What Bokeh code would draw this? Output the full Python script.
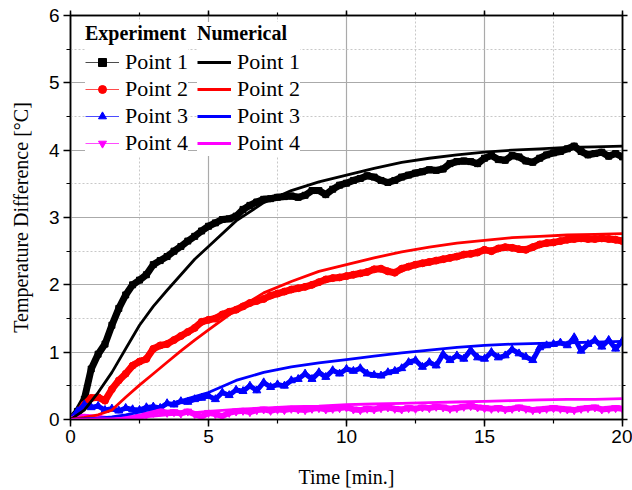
from bokeh.plotting import figure
from bokeh.models import (Range1d, SingleIntervalTicker, LinearAxis, Legend, LegendItem)
from bokeh.embed import file_html
from bokeh.resources import INLINE

# ---------------- data ----------------
t_exp = [i * 0.25 for i in range(81)]  # sample times [min]

exp_p1 = [0.00,0.12,0.30,0.75,0.97,1.12,1.40,1.65,1.85,2.00,
          2.07,2.15,2.30,2.36,2.42,2.50,2.57,2.65,2.72,2.80,
          2.87,2.92,2.97,2.98,3.02,3.12,3.18,3.23,3.27,3.28,
          3.30,3.31,3.32,3.30,3.33,3.40,3.40,3.34,3.42,3.48,
          3.51,3.55,3.58,3.62,3.60,3.55,3.52,3.55,3.60,3.63,
          3.66,3.68,3.71,3.70,3.72,3.80,3.83,3.84,3.83,3.80,
          3.88,3.92,3.86,3.85,3.92,3.90,3.84,3.82,3.88,3.93,
          3.96,3.98,4.02,4.06,3.98,3.93,3.95,3.97,3.91,3.95,
          3.90]
exp_p2 = [0.00,0.08,0.22,0.32,0.33,0.28,0.45,0.58,0.68,0.80,
          0.86,0.90,1.05,1.10,1.12,1.18,1.24,1.30,1.36,1.45,
          1.48,1.50,1.56,1.60,1.63,1.68,1.73,1.76,1.79,1.84,
          1.87,1.90,1.93,1.95,1.97,2.00,2.04,2.08,2.10,2.11,
          2.13,2.15,2.17,2.19,2.23,2.24,2.20,2.18,2.24,2.27,
          2.30,2.32,2.34,2.36,2.38,2.40,2.42,2.45,2.46,2.48,
          2.52,2.50,2.54,2.56,2.55,2.53,2.52,2.56,2.60,2.62,
          2.63,2.65,2.67,2.68,2.69,2.68,2.68,2.69,2.68,2.67,
          2.65]
exp_p3 = [0.00,0.12,0.22,0.18,0.20,0.14,0.16,0.13,0.17,0.15,
          0.14,0.18,0.19,0.17,0.24,0.22,0.27,0.26,0.30,0.32,
          0.35,0.30,0.40,0.36,0.44,0.42,0.50,0.43,0.55,0.48,
          0.52,0.50,0.58,0.60,0.68,0.60,0.70,0.63,0.73,0.68,
          0.75,0.72,0.76,0.68,0.66,0.65,0.70,0.72,0.76,0.85,
          0.88,0.78,0.85,0.80,0.97,0.88,0.95,0.90,1.03,0.92,
          0.90,1.00,0.92,0.95,1.04,0.98,0.93,0.88,1.07,1.10,
          1.12,1.14,1.10,1.22,1.02,1.12,1.18,1.08,1.18,1.05,
          1.17]
exp_p4 = [0.00,0.02,0.04,0.03,0.02,0.01,0.00,0.01,0.02,0.02,
          0.04,0.07,0.10,0.12,0.10,0.11,0.09,0.12,0.08,0.04,
          0.10,0.08,0.05,0.10,0.12,0.13,0.11,0.14,0.15,0.13,
          0.15,0.14,0.16,0.15,0.14,0.16,0.17,0.15,0.16,0.17,
          0.18,0.15,0.14,0.16,0.15,0.17,0.18,0.16,0.15,0.17,
          0.16,0.18,0.17,0.19,0.18,0.16,0.17,0.19,0.20,0.18,
          0.17,0.16,0.17,0.15,0.16,0.18,0.16,0.14,0.15,0.16,
          0.17,0.16,0.15,0.14,0.16,0.17,0.18,0.15,0.16,0.17,
          0.16]

t_num = [0,0.5,1,1.5,2,2.5,3,3.5,4,4.5,5,6,7,8,9,10,11,12,13,14,15,16,17,18,19,20]
num_p1 = [0,0.14,0.40,0.70,1.05,1.40,1.68,1.92,2.15,2.38,2.57,2.95,3.22,3.40,3.53,3.63,
          3.73,3.82,3.88,3.93,3.97,4.00,4.02,4.04,4.05,4.06]
num_p2 = [0,0.03,0.07,0.14,0.33,0.51,0.68,0.85,1.02,1.18,1.33,1.63,1.88,2.05,2.20,2.30,
          2.40,2.49,2.56,2.62,2.66,2.70,2.72,2.74,2.75,2.76]
num_p3 = [0,0.01,0.02,0.04,0.07,0.11,0.16,0.22,0.28,0.34,0.40,0.58,0.70,0.78,0.84,0.89,
          0.94,0.99,1.03,1.07,1.10,1.12,1.13,1.14,1.15,1.16]
num_p4 = [0,0.00,0.01,0.01,0.02,0.03,0.05,0.07,0.08,0.10,0.12,0.15,0.17,0.19,0.20,0.22,
          0.23,0.24,0.25,0.26,0.27,0.28,0.29,0.30,0.30,0.31]

labels = ["Point 1", "Point 2", "Point 3", "Point 4"]
colors = ["#000000", "#FF0000", "#0000FF", "#FF00FF"]
markers = ["square", "circle", "triangle", "inverted_triangle"]
msizes = [6, 7, 8, 8]
band_w = [7, 7, 5, 6]

SERIF = "Liberation Serif"
SANS = "Liberation Sans"

# ---------------- figure ----------------
p = figure(width=632, height=490, output_backend="svg", toolbar_location=None,
           x_range=Range1d(0, 20), y_range=Range1d(0, 6),
           min_border_left=70, min_border_right=10, min_border_top=15, min_border_bottom=70)
p.background_fill_color = "white"
p.border_fill_color = "white"
p.outline_line_color = "black"
p.outline_line_width = 1.5

p.xaxis.ticker = SingleIntervalTicker(interval=5, num_minor_ticks=2)
p.yaxis.ticker = SingleIntervalTicker(interval=1, num_minor_ticks=2)
p.xgrid.ticker = p.xaxis.ticker
p.ygrid.ticker = p.yaxis.ticker

for g in (p.xgrid, p.ygrid):
    g.grid_line_color = "#AAAAAA"
    g.grid_line_width = 1.2
    g.minor_grid_line_color = "#C8C8C8"
    g.minor_grid_line_dash = "2 2"
    g.minor_grid_line_width = 1

for ax in (p.xaxis, p.yaxis):
    ax.axis_line_color = "black"
    ax.axis_line_width = 1.5
    ax.major_tick_line_width = 1.5
    ax.minor_tick_line_width = 1.2
    ax.major_tick_in = 0
    ax.major_tick_out = 7
    ax.minor_tick_in = 0
    ax.minor_tick_out = 4
    ax.major_label_text_font = SANS
    ax.major_label_text_font_size = "19px"
    ax.major_label_text_color = "black"
    ax.axis_label_text_font = SERIF
    ax.axis_label_text_font_size = "20px"
    ax.axis_label_text_font_style = "normal"
    ax.axis_label_text_color = "black"

p.xaxis.axis_label = "Time [min.]"
p.yaxis.axis_label = "Temperature Difference [°C]"
p.xaxis.major_label_standoff = 3
p.xaxis.axis_label_standoff = 20
p.yaxis.major_label_standoff = 4
p.yaxis.axis_label_standoff = 14

# mirrored axes (top / right) with ticks only
for place in ("above", "right"):
    ax = LinearAxis(ticker=SingleIntervalTicker(interval=5 if place == "above" else 1, num_minor_ticks=2),
                    major_label_text_font_size="1px", major_label_text_color=None,
                    axis_line_color="black", axis_line_width=1.5,
                    major_tick_in=0, major_tick_out=5, minor_tick_in=0, minor_tick_out=3,
                    major_tick_line_width=1.5, minor_tick_line_width=1.2, major_label_standoff=0)
    p.add_layout(ax, place)

# ---------------- data marks ----------------
exp_series = [exp_p1, exp_p2, exp_p3, exp_p4]
num_series = [num_p1, num_p2, num_p3, num_p4]

exp_items, num_items = [], []
for lab, col, mk, ms, bw, ys in zip(labels, colors, markers, msizes, band_w, exp_series):
    p.line(t_exp, ys, line_color=col, line_width=bw, line_join="round")
    lr = p.line(t_exp, ys, line_color=col, line_width=1, line_alpha=0.7)
    sr = p.scatter(t_exp, ys, marker=mk, size=ms, fill_color=col, line_color=col)
    exp_items.append(LegendItem(label=lab, renderers=[lr, sr]))

for lab, col, ys in zip(labels, colors, num_series):
    nr = p.line(t_num, ys, line_color=col, line_width=2.8)
    num_items.append(LegendItem(label=lab, renderers=[nr]))

def make_legend(items, title, loc):
    return Legend(items=items, title=title, location=loc,
                  label_text_font=SERIF, label_text_font_size="22px", label_text_color="black",
                  title_text_font=SERIF, title_text_font_size="20px", title_text_font_style="bold",
                  title_text_color="black", title_standoff=4,
                  glyph_width=34, glyph_height=20, label_height=20, label_standoff=6,
                  spacing=1, padding=4, margin=0,
                  border_line_color=None, background_fill_color="white", background_fill_alpha=1.0)

leg1 = make_legend(exp_items, "Experiment", (15, 263))
leg2 = make_legend(num_items, "Numerical", (127, 263))
p.add_layout(leg1)
p.add_layout(leg2)

open("out.html", "w").write(file_html(p, INLINE))
